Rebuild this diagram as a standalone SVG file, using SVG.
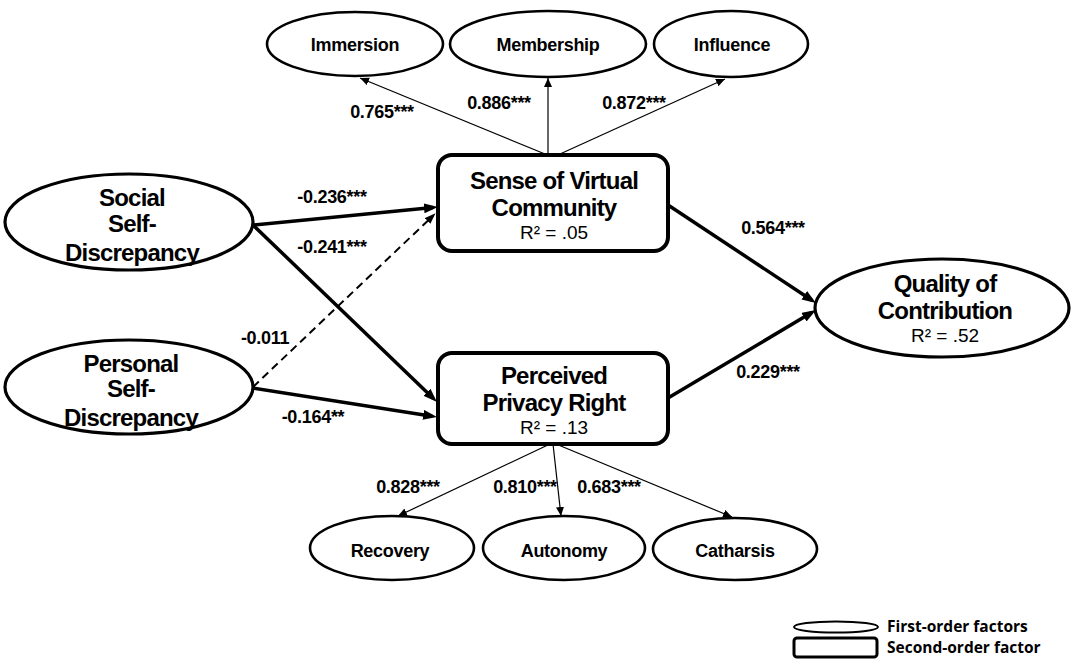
<svg xmlns="http://www.w3.org/2000/svg" width="1072" height="668" viewBox="0 0 1072 668">
<style>
text{font-family:"Liberation Sans",Arial,sans-serif;fill:#000;text-anchor:middle}
.big{font-size:24px;font-weight:700;letter-spacing:-0.8px}
.r2{font-size:19px}
.sm{font-size:18px;font-weight:700;letter-spacing:-0.3px}
.lbl{font-size:18px;font-weight:700;letter-spacing:-0.3px}
.leg{font-family:"Open Sans","Liberation Sans",sans-serif;font-size:15.5px;font-weight:700;text-anchor:start}
.e1{fill:#fff;stroke:#000;stroke-width:2.6}
.e2{fill:#fff;stroke:#000;stroke-width:3.2}
.box{fill:#fff;stroke:#000;stroke-width:4}
.thick{stroke:#000;stroke-width:3.5;fill:none;marker-end:url(#ah)}
.dash{stroke:#000;stroke-width:2;fill:none;stroke-dasharray:8 5;marker-end:url(#am)}
.thin{stroke:#000;stroke-width:1.2;fill:none;marker-end:url(#as)}
</style>
<defs>
<marker id="ah" markerUnits="userSpaceOnUse" markerWidth="16" markerHeight="12" refX="9" refY="5" orient="auto"><path d="M0,0 L14,5 L0,10 z" fill="#000"/></marker>
<marker id="am" markerUnits="userSpaceOnUse" markerWidth="14" markerHeight="10" refX="8" refY="4" orient="auto"><path d="M0,0 L11,4 L0,8 z" fill="#000"/></marker>
<marker id="as" markerUnits="userSpaceOnUse" markerWidth="12" markerHeight="10" refX="9" refY="4" orient="auto"><path d="M0,0 L9,4 L0,8 z" fill="#000"/></marker>
</defs>
<rect width="1072" height="668" fill="#fff"/>
<g id="connectors">
<line class="thin" x1="545" y1="154" x2="360" y2="78"/>
<line class="thin" x1="548" y1="154" x2="548" y2="78"/>
<line class="thin" x1="560" y1="154" x2="725" y2="79"/>
<line class="thick" x1="253" y1="225" x2="433" y2="207.5"/>
<line class="thick" x1="253" y1="225" x2="433.4" y2="398.5"/>
<line class="dash" x1="253" y1="387" x2="433.4" y2="215.4"/>
<line class="thick" x1="253" y1="388" x2="432.1" y2="416.2"/>
<line class="thick" x1="668" y1="205" x2="811.8" y2="300.2"/>
<line class="thick" x1="668" y1="398" x2="811.7" y2="312.6"/>
<line class="thin" x1="550" y1="444" x2="398" y2="516"/>
<line class="thin" x1="553" y1="444" x2="561" y2="516"/>
<line class="thin" x1="556" y1="444" x2="732" y2="517"/>
<text class="lbl" x="382" y="118">0.765***</text>
<text class="lbl" x="499" y="109">0.886***</text>
<text class="lbl" x="634" y="109">0.872***</text>
<text class="lbl" x="332" y="203">-0.236***</text>
<text class="lbl" x="332" y="253">-0.241***</text>
<text class="lbl" x="265" y="344">-0.011</text>
<text class="lbl" x="313" y="423">-0.164**</text>
<text class="lbl" x="773" y="234">0.564***</text>
<text class="lbl" x="768" y="378">0.229***</text>
<text class="lbl" x="408" y="493">0.828***</text>
<text class="lbl" x="525" y="493">0.810***</text>
<text class="lbl" x="609" y="493">0.683***</text>
</g>
<g id="immersion"><ellipse class="e1" cx="355" cy="44" rx="88" ry="32"/><text class="sm" x="355" y="51">Immersion</text></g>
<g id="membership"><ellipse class="e1" cx="548" cy="44" rx="98" ry="33"/><text class="sm" x="548" y="51">Membership</text></g>
<g id="influence"><ellipse class="e1" cx="731" cy="44" rx="77" ry="33"/><text class="sm" x="732" y="51">Influence</text></g>
<g id="svc"><rect class="box" x="438" y="155" width="230" height="96" rx="14"/>
<text class="big" x="554" y="189">Sense of Virtual</text>
<text class="big" x="554" y="216">Community</text>
<text class="r2" x="554" y="239">R² = .05</text></g>
<g id="ppr"><rect class="box" x="438" y="353" width="230" height="91" rx="14"/>
<text class="big" x="554" y="384">Perceived</text>
<text class="big" x="554" y="411">Privacy Right</text>
<text class="r2" x="554" y="434">R² = .13</text></g>
<g id="social"><ellipse class="e2" cx="129" cy="222" rx="124" ry="48"/>
<text class="big" x="132" y="206">Social</text>
<text class="big" x="132" y="232">Self-</text>
<text class="big" x="132" y="261">Discrepancy</text></g>
<g id="personal"><ellipse class="e2" cx="129" cy="387" rx="124" ry="47"/>
<text class="big" x="131" y="372">Personal</text>
<text class="big" x="131" y="397">Self-</text>
<text class="big" x="131" y="426">Discrepancy</text></g>
<g id="qoc"><ellipse class="e2" cx="942" cy="308" rx="127" ry="49"/>
<text class="big" x="945" y="292">Quality of</text>
<text class="big" x="945" y="319">Contribution</text>
<text class="r2" x="945" y="342">R² = .52</text></g>
<g id="recovery"><ellipse class="e1" cx="392" cy="548" rx="82" ry="32"/><text class="sm" x="390" y="557">Recovery</text></g>
<g id="autonomy"><ellipse class="e1" cx="564" cy="548" rx="81" ry="32"/><text class="sm" x="564" y="557">Autonomy</text></g>
<g id="catharsis"><ellipse class="e1" cx="735" cy="549" rx="82" ry="31"/><text class="sm" x="735" y="557">Catharsis</text></g>
<g id="legend">
<ellipse cx="836" cy="627" rx="42" ry="5.5" fill="#fff" stroke="#000" stroke-width="2"/>
<rect x="794" y="638" width="83" height="19" rx="3" fill="#fff" stroke="#000" stroke-width="3"/>
<text class="leg" x="887" y="632">First-order factors</text>
<text class="leg" x="887" y="653">Second-order factor</text>
</g>
</svg>
